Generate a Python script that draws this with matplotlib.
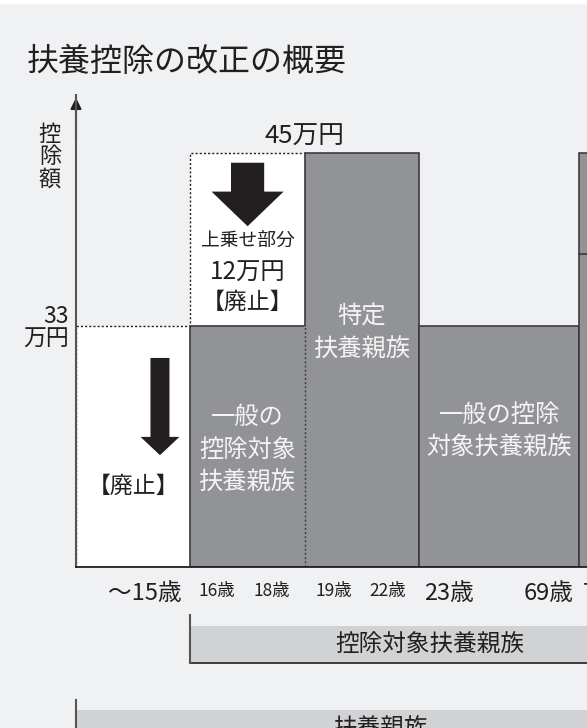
import numpy as np
import matplotlib
matplotlib.use("Agg")
import matplotlib.pyplot as plt
import matplotlib.patches as mpatches

plt.rcParams["font.family"] = ["Noto Sans CJK JP", "DejaVu Sans"]

# data (万円, schematic)
age_groups = ["〜15歳", "16〜18歳", "19〜22歳", "23〜69歳", "70歳〜"]
group_widths = [1, 1, 1, 1.4, 1]
lower_amount = [33, 33, 45, 33, 38]
upper_amount = [0, 12, 0, 0, 7]
lower_abolished = [True, False, False, False, False]
upper_abolished = [False, True, False, False, False]

tick_pos = [0.6, 1.23, 1.71, 2.25, 2.72, 3.26, 4.13, 4.43]
tick_labels = ["〜15歳", "16歳", "18歳", "19歳", "22歳", "23歳", "69歳", "70歳〜"]
tick_sizes = [17, 12.5, 12.5, 12.5, 12.5, 17, 17, 17]

BG = "#f0f1f3"
GRAY = "#929397"
EDGE = "#3c3c3e"
INK = "#231f20"
BAND = "#d1d2d4"

# the chart is not to scale: piecewise scale so 33 and 45 land where drawn
knots_v = [0, 33, 45, 60]
knots_px = [0, 241, 414, 630]
fwd = lambda v: np.interp(v, knots_v, knots_px)
inv = lambda p: np.interp(p, knots_px, knots_v)

fig = plt.figure(figsize=(5.87, 7.28), dpi=100, facecolor=BG)
fig.patches.append(mpatches.Rectangle((0, 1 - 3 / 728), 1, 3 / 728, transform=fig.transFigure,
                                      color="white", zorder=0))
ax = fig.add_axes([76 / 587, 161 / 728, 511 / 587, 472 / 728])
ax.set_facecolor("none")
ax.set_yscale("function", functions=(fwd, inv))

lefts = np.concatenate([[0], np.cumsum(group_widths)[:-1]])
dotted = (0, (1.5, 1.5))

# abolished parts first (white, dotted outline)
for i in range(len(age_groups)):
    if lower_abolished[i]:
        ax.bar(lefts[i], lower_amount[i], width=group_widths[i], align="edge",
               color="white", edgecolor=INK, lw=1, linestyle=dotted, zorder=2)
    if upper_abolished[i]:
        ax.bar(lefts[i], upper_amount[i], bottom=lower_amount[i], width=group_widths[i],
               align="edge", color="white", edgecolor=INK, lw=1, linestyle=dotted, zorder=2)
# remaining (gray, solid outline)
for i in range(len(age_groups)):
    if not lower_abolished[i]:
        ax.bar(lefts[i], lower_amount[i], width=group_widths[i], align="edge",
               color=GRAY, edgecolor=EDGE, lw=1.2, zorder=3)
    if upper_amount[i] and not upper_abolished[i]:
        ax.bar(lefts[i], upper_amount[i], bottom=lower_amount[i], width=group_widths[i],
               align="edge", color=GRAY, edgecolor=EDGE, lw=1.2, zorder=3)

# 16-18 and 19-22 share the same general deduction part: dotted boundary
ax.vlines(lefts[2], 0, lower_amount[1], color=GRAY, lw=2.4, zorder=4)
ax.vlines(lefts[2], 0, lower_amount[1], color=EDGE, lw=1, linestyle=dotted, zorder=5)

# axes
for s in ["top", "right"]:
    ax.spines[s].set_visible(False)
ax.spines["left"].set_color("#555555")
ax.spines["left"].set_linewidth(1.5)
ax.spines["left"].set_zorder(6)
ax.spines["bottom"].set_color(INK)
ax.spines["bottom"].set_linewidth(1.3)
ax.spines["bottom"].set_zorder(6)

ax.set_yticks([33])
ax.set_yticklabels(["33\n万円"], fontsize=16.5, color=INK, linespacing=0.95)
ax.set_xticks(tick_pos)
ax.set_xticklabels(tick_labels, color=INK)
for lab, fs in zip(ax.get_xticklabels(), tick_sizes):
    lab.set_fontsize(fs)
ax.get_xticklabels()[-1].set_horizontalalignment("left")
ax.tick_params(axis="both", length=0)
ax.tick_params(axis="x", pad=11)
ax.tick_params(axis="y", pad=5)
# limits after ticks (set_xticks would widen them)
ax.set_xlim(0, 4.467)
ax.set_ylim(0, 49.0)

ax.annotate("", xy=(0, 1.0), xytext=(0, 0.9), xycoords="axes fraction",
            arrowprops=dict(arrowstyle="-|>", color=INK, lw=1.5, mutation_scale=16),
            annotation_clip=False)

ax.text(-0.051, 0.869, "控\n除\n額", transform=ax.transAxes, ha="center", va="center",
        fontsize=16, color=INK, linespacing=0.95)
fig.text(27 / 587, 1 - 62 / 728, "扶養控除の改正の概要", fontsize=23, color=INK,
         ha="left", va="center")

# annotations
ax.text(lefts[2], 46.1, "45万円", ha="center", va="center", fontsize=18.5, color=INK)
c1 = lefts[1] + group_widths[1] / 2
ax.add_patch(mpatches.FancyArrow(c1, 44.3, 0, -4.4, width=0.29, head_width=0.63,
                                 head_length=2.4, length_includes_head=True,
                                 color=INK, lw=0, zorder=6))
ax.text(c1, 38.9, "上乗せ部分", ha="center", va="center", fontsize=13.5, color=INK)
ax.text(c1, 36.7, "12万円", ha="center", va="center", fontsize=17.5, color=INK)
ax.text(c1, 34.6, "【廃止】", ha="center", va="center", fontsize=16.5, color=INK)

ax.add_patch(mpatches.FancyArrow(0.734, 28.6, 0, -13.3, width=0.166, head_width=0.34,
                                 head_length=2.5, length_includes_head=True,
                                 color=INK, lw=0, zorder=6))
ax.text(lefts[0] + group_widths[0] / 2, 11.0, "【廃止】", ha="center", va="center",
        fontsize=16.5, color=INK)

WHITE_TXT = "#f4f4f4"
ax.text(c1, 16.0, "一般の\n控除対象\n扶養親族", ha="center", va="center", fontsize=17.5,
        color=WHITE_TXT, linespacing=1.35, zorder=7)
c2 = lefts[2] + group_widths[2] / 2
ax.text(c2, 32.0, "特定\n扶養親族", ha="center", va="center", fontsize=17.5,
        color=WHITE_TXT, linespacing=1.35, zorder=7)
c3 = lefts[3] + group_widths[3] / 2
ax.text(c3, 18.6, "一般の控除\n対象扶養親族", ha="center", va="center", fontsize=17.5,
        color=WHITE_TXT, linespacing=1.35, zorder=7)

# bands below the axis
tr = ax.get_xaxis_transform()
ax.add_patch(mpatches.Rectangle((lefts[1], -0.203), 5, 0.078, transform=tr, color=BAND,
                                clip_on=False, lw=0))
ax.plot([lefts[1], 6], [-0.203, -0.203], transform=tr, color=INK, lw=1.2, clip_on=False)
ax.plot([lefts[1], lefts[1]], [-0.102, -0.203], transform=tr, color="#555555", lw=1.5,
        clip_on=False)
ax.text(3.09, -0.165, "控除対象扶養親族", transform=tr, ha="center", va="center",
        fontsize=17, color=INK)

ax.add_patch(mpatches.Rectangle((lefts[0], -0.40), 6, 0.097, transform=tr, color=BAND,
                                clip_on=False, lw=0))
ax.plot([lefts[0], lefts[0]], [-0.282, -0.40], transform=tr, color="#555555", lw=1.5,
        clip_on=False)
ax.text(2.67, -0.343, "扶養親族", transform=tr, ha="center", va="center",
        fontsize=17, color=INK)

fig.savefig("out.png", dpi=100, facecolor=BG)
